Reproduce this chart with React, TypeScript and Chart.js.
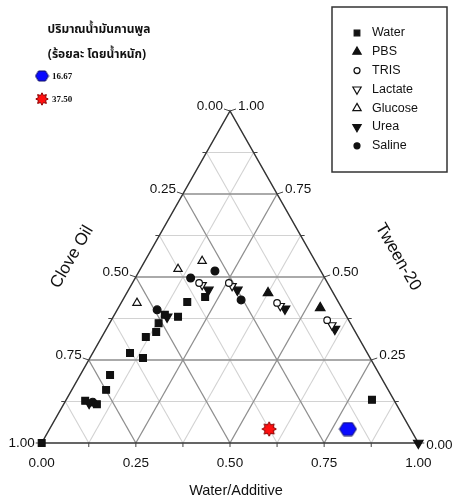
import React, { useEffect, useRef } from "react";
import { Chart, registerables } from "chart.js";
Chart.register(...registerables);

// Ternary composition of each point: water/additive fraction (W) and Tween-20 fraction (T).
// Clove oil = 1 - W - T.
const waterW = [0, 0.079, 0.091, 0.052, 0.088, 0.099, 0.141, 0.117, 0.137, 0.13, 0.134, 0.172, 0.174, 0.214, 0.812];
const waterT = [0, 0.205, 0.16, 0.127, 0.117, 0.271, 0.256, 0.319, 0.334, 0.361, 0.386, 0.38, 0.425, 0.44, 0.13];
const pbsW = [0.375, 0.536];
const pbsT = [0.452, 0.407];
const trisW = [0.177, 0.256, 0.414, 0.573];
const trisT = [0.482, 0.482, 0.422, 0.37];
const lactateW = [0.188, 0.269, 0.427, 0.593];
const lactateT = [0.476, 0.473, 0.413, 0.355];
const glucoseW = [0.042, 0.1, 0.152];
const glucoseT = [0.422, 0.524, 0.548];
const ureaW = [0.143, 0.212, 0.289, 0.444, 0.607, 0.066, 1];
const ureaT = [0.38, 0.461, 0.461, 0.404, 0.343, 0.12, 0];
const salineW = [0.106, 0.147, 0.201, 0.314, 0.074];
const salineT = [0.401, 0.497, 0.518, 0.431, 0.123];
const oilLevels = ["16.67", "37.50"];
const oilW = [0.792, 0.583];
const oilT = [0.042, 0.042];

const seriesNames = ["Water", "PBS", "TRIS", "Lactate", "Glucose", "Urea", "Saline"];
const tickValues = [0, 0.25, 0.5, 0.75, 1];
const axisTitles = ["Water/Additive", "Clove Oil", "Tween-20"];
const thaiTitle = ["ปริมาณน้ำมันกานพูล", "(ร้อยละ โดยน้ำหนัก)"];

const SANS = '"Liberation Sans", Arial, sans-serif';
const THAI = '"Noto Sans Thai", "Noto Serif Thai", Tahoma, Loma, Garuda, Norasi, sans-serif';

type Sty = { style: string; filled: boolean; radius: number; rotation: number };
const styles: Sty[] = [
  { style: "rect", filled: true, radius: 4.8, rotation: 0 },
  { style: "triangle", filled: true, radius: 5.5, rotation: 0 },
  { style: "circle", filled: false, radius: 3.3, rotation: 0 },
  { style: "triangle", filled: false, radius: 4.8, rotation: 180 },
  { style: "triangle", filled: false, radius: 4.8, rotation: 0 },
  { style: "triangle", filled: true, radius: 5.5, rotation: 180 },
  { style: "circle", filled: true, radius: 3.9, rotation: 0 },
];

function toXY(W: number[], T: number[]) {
  return W.map((w, i) => ({ x: w + T[i] / 2, y: T[i] }));
}

function makeHex(w: number, h: number) {
  const c = document.createElement("canvas");
  c.width = w;
  c.height = h;
  const g = c.getContext("2d")!;
  const m = 1;
  g.beginPath();
  g.moveTo(m, h / 2);
  g.lineTo(w * 0.27, m);
  g.lineTo(w * 0.73, m);
  g.lineTo(w - m, h / 2);
  g.lineTo(w * 0.73, h - m);
  g.lineTo(w * 0.27, h - m);
  g.closePath();
  g.fillStyle = "#0a0aff";
  g.fill();
  g.strokeStyle = "#101060";
  g.lineWidth = 1;
  g.stroke();
  return c;
}

function makeStar(size: number) {
  const c = document.createElement("canvas");
  c.width = size;
  c.height = size;
  const g = c.getContext("2d")!;
  const cx = size / 2;
  const ro = size / 2 - 0.8;
  const ri = ro * 0.62;
  const n = 8;
  g.beginPath();
  for (let i = 0; i < n * 2; i++) {
    const r = i % 2 === 0 ? ro : ri;
    const a = (Math.PI * i) / n - Math.PI / 2;
    const x = cx + r * Math.cos(a);
    const y = cx + r * Math.sin(a);
    if (i === 0) g.moveTo(x, y);
    else g.lineTo(x, y);
  }
  g.closePath();
  g.fillStyle = "#ff1010";
  g.fill();
  g.strokeStyle = "#8a0000";
  g.lineWidth = 1;
  g.stroke();
  return c;
}

function drawMarker(g: CanvasRenderingContext2D, s: Sty, x: number, y: number) {
  g.save();
  g.fillStyle = s.filled ? "#111" : "#fff";
  g.strokeStyle = "#111";
  g.lineWidth = 1.2;
  g.beginPath();
  if (s.style === "rect") {
    const h = s.radius * Math.SQRT1_2;
    g.rect(x - h, y - h, 2 * h, 2 * h);
  } else if (s.style === "circle") {
    g.arc(x, y, s.radius, 0, Math.PI * 2);
  } else {
    const r = s.radius;
    const d = s.rotation === 180 ? -1 : 1;
    g.moveTo(x, y - d * r);
    g.lineTo(x + r * 0.866, y + d * r * 0.5);
    g.lineTo(x - r * 0.866, y + d * r * 0.5);
    g.closePath();
  }
  g.fill();
  g.stroke();
  g.restore();
}

export default function App() {
  const ref = useRef<HTMLCanvasElement | null>(null);

  useEffect(() => {
    if (!ref.current) return;
    const hex = makeHex(19, 15);
    const star = makeStar(16);
    const hexSmall = makeHex(15, 12);
    const starSmall = makeStar(14);

    const allW = [waterW, pbsW, trisW, lactateW, glucoseW, ureaW, salineW];
    const allT = [waterT, pbsT, trisT, lactateT, glucoseT, ureaT, salineT];

    const datasets: any[] = seriesNames.map((name, i) => ({
      label: name,
      data: toXY(allW[i], allT[i]),
      showLine: false,
      pointStyle: styles[i].style,
      pointRadius: styles[i].radius,
      pointRotation: styles[i].rotation,
      pointBackgroundColor: styles[i].filled ? "#111" : "#fff",
      pointBorderColor: "#111",
      pointBorderWidth: 1.2,
      clip: false,
    }));
    oilLevels.forEach((lvl, i) => {
      datasets.push({
        label: lvl,
        data: toXY([oilW[i]], [oilT[i]]),
        showLine: false,
        pointStyle: i === 0 ? hex : star,
        pointRadius: 8,
        clip: false,
      });
    });

    const ternary = {
      id: "ternary",
      beforeDatasetsDraw(chart: any) {
        const g: CanvasRenderingContext2D = chart.ctx;
        const xs = chart.scales.x;
        const ys = chart.scales.y;
        const P = (W: number, T: number) => [xs.getPixelForValue(W + T / 2), ys.getPixelForValue(T)];
        const line = (a: number[], b: number[], color: string, w: number) => {
          g.beginPath();
          g.moveTo(a[0], a[1]);
          g.lineTo(b[0], b[1]);
          g.strokeStyle = color;
          g.lineWidth = w;
          g.stroke();
        };
        g.save();
        // minor first, then major
        for (const pass of [1, 0]) {
          for (let i = 1; i < 8; i++) {
            if (i % 2 !== pass) continue;
            const k = i / 8;
            const major = i % 2 === 0;
            const col = major ? "#8e8e8e" : "#d2d2d2";
            const lw = major ? 1.3 : 1.1;
            line(P(0, k), P(1 - k, k), col, lw);
            line(P(k, 0), P(k, 1 - k), col, lw);
            line(P(1 - k, 0), P(0, 1 - k), col, lw);
          }
        }
        // outline
        g.beginPath();
        const a = P(0, 0), b = P(1, 0), c = P(0, 1);
        g.moveTo(a[0], a[1]);
        g.lineTo(b[0], b[1]);
        g.lineTo(c[0], c[1]);
        g.closePath();
        g.strokeStyle = "#333";
        g.lineWidth = 1.5;
        g.stroke();

        // ticks
        g.strokeStyle = "#333";
        g.lineWidth = 1;
        for (let i = 0; i <= 8; i++) {
          const k = i / 8;
          const len = i % 2 === 0 ? 6 : 4;
          const pb = P(k, 0);
          line(pb, [pb[0], pb[1] + 4], "#444", 1);
          const pl = P(0, k);
          line(pl, [pl[0] - len, pl[1] - (i % 2 === 0 && i > 0 ? 2 : 0)], "#444", 1);
          const pr = P(1 - k, k);
          line(pr, [pr[0] + len, pr[1] - (i % 2 === 0 && i > 0 ? 2 : 0)], "#444", 1);
        }
        // tick labels
        g.fillStyle = "#111";
        g.font = `13.5px ${SANS}`;
        g.textBaseline = "middle";
        tickValues.forEach((v) => {
          const pb = P(v, 0);
          g.textAlign = "center";
          g.fillText(v.toFixed(2), pb[0], pb[1] + 20);
          const pl = P(0, v);
          g.textAlign = "right";
          g.fillText((1 - v).toFixed(2), pl[0] - 7, pl[1] - (v === 0 ? 0 : 5));
          const pr = P(1 - v, v);
          g.textAlign = "left";
          g.fillText(v.toFixed(2), pr[0] + 8, pr[1] - (v === 0 ? -2 : 5));
        });

        // axis titles
        g.font = `14.5px ${SANS}`;
        g.textAlign = "center";
        g.fillText(axisTitles[0], 236, 491);
        g.font = `17px ${SANS}`;
        g.save();
        g.translate(72, 257);
        g.rotate(-Math.PI / 3);
        g.fillText(axisTitles[1], 0, 0);
        g.restore();
        g.save();
        g.translate(398, 257);
        g.rotate(Math.PI / 3);
        g.fillText(axisTitles[2], 0, 0);
        g.restore();
        g.restore();
      },
      afterDraw(chart: any) {
        const g: CanvasRenderingContext2D = chart.ctx;
        g.save();
        // legend box
        g.strokeStyle = "#333";
        g.lineWidth = 1.5;
        g.strokeRect(332, 7, 115, 165);
        g.font = `12.5px ${SANS}`;
        g.textAlign = "left";
        g.textBaseline = "middle";
        g.fillStyle = "#111";
        seriesNames.forEach((name, i) => {
          const y = 33 + i * 18.8;
          const s = styles[i];
          drawMarker(g, { ...s, radius: s.style === "rect" ? 4 : s.style === "circle" ? 3 : 4.8 }, 357, y);
          g.fillStyle = "#111";
          g.fillText(name, 372, y);
        });
        // oil content legend (top-left)
        g.font = `bold 12px ${THAI}`;
        g.textAlign = "center";
        g.fillStyle = "#111";
        g.fillText(thaiTitle[0], 99, 31);
        g.fillText(thaiTitle[1], 97, 56);
        g.drawImage(hexSmall, 42 - 7.5, 76 - 6);
        g.drawImage(starSmall, 42 - 7, 99 - 7);
        g.font = `bold 9px "Liberation Serif", "DejaVu Serif", serif`;
        g.textAlign = "left";
        g.fillText(oilLevels[0], 52, 77);
        g.fillText(oilLevels[1], 52, 100);
        g.restore();
      },
    };

    const chart = new Chart(ref.current, {
      type: "scatter",
      data: { datasets },
      options: {
        animation: false,
        responsive: false,
        layout: { padding: { left: 41.7, right: 34.7, top: 111, bottom: 57 } },
        scales: {
          x: { type: "linear", min: 0, max: 1, display: false },
          y: { type: "linear", min: 0, max: 1, display: false },
        },
        plugins: { legend: { display: false }, tooltip: { enabled: false } },
      },
      plugins: [ternary],
    } as any);
    return () => chart.destroy();
  }, []);

  return (
    <div style={{ position: "absolute", left: 0, top: 0, width: 453, height: 500, background: "#fff" }}>
      <canvas ref={ref} width={453} height={500} style={{ width: 453, height: 500 }} />
    </div>
  );
}
